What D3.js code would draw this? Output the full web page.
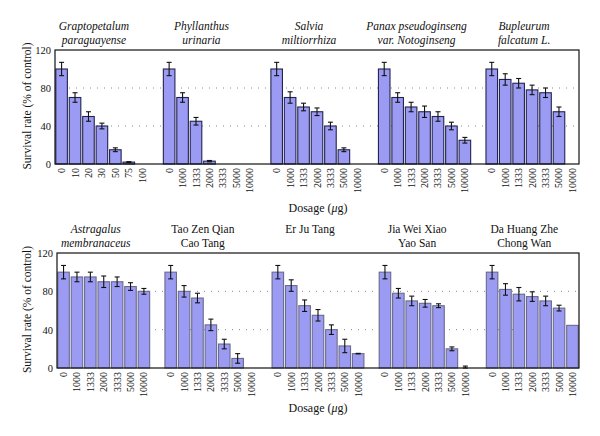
<!DOCTYPE html>
<html><head><meta charset="utf-8">
<script src="https://cdn.jsdelivr.net/npm/d3@7"></script>
<style>body{margin:0;background:#fff}svg{display:block}</style>
</head><body><svg id="c" width="600" height="436"></svg>
<script>
// ---- data ----
const dosesA = ["0","10","20","30","50","75","100"];
const dosesB = ["0","1000","1333","2000","3333","5000","10000"];
const yTicks = [0, 40, 80, 120];

const titlesTop = [["Graptopetalum","paraguayense"],["Phyllanthus","urinaria"],["Salvia","miltiorrhiza"],["Panax pseudoginseng","var. Notoginseng"],["Bupleurum","falcatum L."]];
const italicTop = [true,true,true,true,true];
const titlesBottom = [["Astragalus","membranaceus"],["Tao Zen Qian","Cao Tang"],["Er Ju Tang",""],["Jia Wei Xiao","Yao San"],["Da Huang Zhe","Chong Wan"]];
const italicBottom = [true,false,false,false,false];

const graptopetalum = [100, 70, 50, 40, 15, 2, 0];
const graptopetalumErr = [7, 5, 5, 3, 2, 0.5, 0];
const phyllanthus = [100, 70, 45, 3, 0, 0, 0];
const phyllanthusErr = [7, 5, 4, 0.7, 0, 0, 0];
const salvia = [100, 70, 60, 55, 40, 15, 0];
const salviaErr = [7, 6, 4, 4, 4, 2, 0];
const panax = [100, 70, 60, 55, 50, 40, 25];
const panaxErr = [7, 5, 5, 6, 5, 4, 3];
const bupleurum = [100, 89, 85, 78, 75, 55, 0];
const bupleurumErr = [7, 6, 5, 5, 5, 5, 0];

const astragalus = [100, 95, 95, 90, 90, 85, 80];
const astragalusErr = [7, 5, 5, 6, 5, 4, 3];
const taoZen = [100, 80, 73, 45, 25, 10, 0];
const taoZenErr = [7, 6, 5, 6, 5, 5, 0];
const erJu = [100, 86, 65, 55, 40, 23, 15];
const erJuErr = [7, 6, 6, 6, 5, 7, 0.3];
const jiaWei = [100, 78, 70, 67.5, 65, 20, 0];
const jiaWeiErr = [7, 5, 5, 4, 2, 2, 2];
const daHuang = [100, 82, 77, 74.5, 70, 62.5, 44.5];
const daHuangErr = [7, 6, 7, 5, 5, 3, 0];

const topSeries = [[graptopetalum,graptopetalumErr,dosesA],[phyllanthus,phyllanthusErr,dosesB],[salvia,salviaErr,dosesB],[panax,panaxErr,dosesB],[bupleurum,bupleurumErr,dosesB]];
const bottomSeries = [[astragalus,astragalusErr,dosesB],[taoZen,taoZenErr,dosesB],[erJu,erJuErr,dosesB],[jiaWei,jiaWeiErr,dosesB],[daHuang,daHuangErr,dosesB]];

const FONT = '"Liberation Serif"';
const svg = d3.select("#c");

function panel(cfg){
  const {x0,x1,yT,yB,series,titles,italic,titleY,dosageY,barStroke} = cfg;
  const nSlots = series.length*8 - 1;
  const x = d3.scaleBand().domain(d3.range(nSlots)).range([x0,x1]).paddingInner(0.14).paddingOuter(0.06);
  const y = d3.scaleLinear().domain([0,120]).range([yB,yT]);
  const g = svg.append("g");
  g.selectAll("line.grid").data([40,80]).join("line")
    .attr("x1",x0).attr("x2",x1).attr("y1",d=>y(d)).attr("y2",d=>y(d))
    .attr("stroke","#888").attr("stroke-width",1).attr("stroke-dasharray","1,6");
  const bars = [];
  series.forEach((s,gi)=>{
    s[0].forEach((v,i)=>bars.push({slot:gi*8+i,v,e:s[1][i],lab:s[2][i]}));
  });
  g.selectAll("rect.bar").data(bars.filter(d=>d.v>0)).join("rect")
    .attr("x",d=>x(d.slot)).attr("width",x.bandwidth())
    .attr("y",d=>y(d.v)).attr("height",d=>y(0)-y(d.v))
    .attr("fill","#9b9bf4").attr("stroke",barStroke).attr("stroke-width",1.1);
  const eb = bars.filter(d=>d.e>0);
  const cx = d=>x(d.slot)+x.bandwidth()/2;
  g.selectAll("line.ev").data(eb).join("line")
    .attr("x1",cx).attr("x2",cx).attr("y1",d=>y(d.v+d.e)).attr("y2",d=>y(Math.max(0,d.v-d.e)))
    .attr("stroke","#111").attr("stroke-width",1.1);
  ["top","bot"].forEach(k=>{
    g.selectAll("line.cap"+k).data(eb).join("line")
      .attr("x1",d=>cx(d)-2.5).attr("x2",d=>cx(d)+2.5)
      .attr("y1",d=>y(k==="top"?d.v+d.e:Math.max(0,d.v-d.e)))
      .attr("y2",d=>y(k==="top"?d.v+d.e:Math.max(0,d.v-d.e)))
      .attr("stroke","#111").attr("stroke-width",1.1);
  });
  g.append("rect").attr("x",x0).attr("y",yT).attr("width",x1-x0).attr("height",yB-yT)
    .attr("fill","none").attr("stroke","#111").attr("stroke-width",1.2);
  const ya = g.append("g").attr("transform",`translate(${x0},0)`)
    .call(d3.axisLeft(y).tickValues(yTicks).tickSize(0).tickPadding(4));
  ya.select(".domain").remove();
  ya.selectAll("text").attr("fill","#111").style("font-family",FONT).style("font-size","10.5px");
  g.selectAll("text.xl").data(bars).join("text")
    .attr("transform",d=>`translate(${cx(d)+3.5},${yB+4}) rotate(-90)`)
    .attr("text-anchor","end").style("font-family",FONT).style("font-size","10px").attr("fill","#111").text(d=>d.lab);
  titles.forEach((t,gi)=>{
    const c = (x(gi*8)+x(gi*8+6)+x.bandwidth())/2 - 8;
    t.forEach((line,li)=>{
      g.append("text").attr("x",c).attr("y",titleY+li*13.5).attr("text-anchor","middle")
        .style("font-family",FONT).style("font-size","11.5px").attr("fill","#111")
        .style("font-style",italic[gi]?"italic":"normal").text(line);
    });
  });
  const dl = g.append("text").attr("x",318).attr("y",dosageY).attr("text-anchor","middle")
    .style("font-family",FONT).style("font-size","12px").attr("fill","#111");
  dl.append("tspan").text("Dosage (");
  dl.append("tspan").style("font-style","italic").text("\u03bc");
  dl.append("tspan").text("g)");
  g.append("text").attr("transform",`translate(31,${(yT+yB)/2 - 1}) rotate(-90)`).attr("text-anchor","middle")
    .style("font-family",FONT).style("font-size","11.5px").attr("fill","#111").text("Survival rate (% of control)");
}

panel({x0:55,x1:579,yT:50,yB:164,series:topSeries,titles:titlesTop,italic:italicTop,titleY:30,dosageY:212,barStroke:"#23234f"});
panel({x0:57,x1:579,yT:253,yB:368,series:bottomSeries,titles:titlesBottom,italic:italicBottom,titleY:233,dosageY:412,barStroke:"#6a6a8a"});
</script></body></html>
